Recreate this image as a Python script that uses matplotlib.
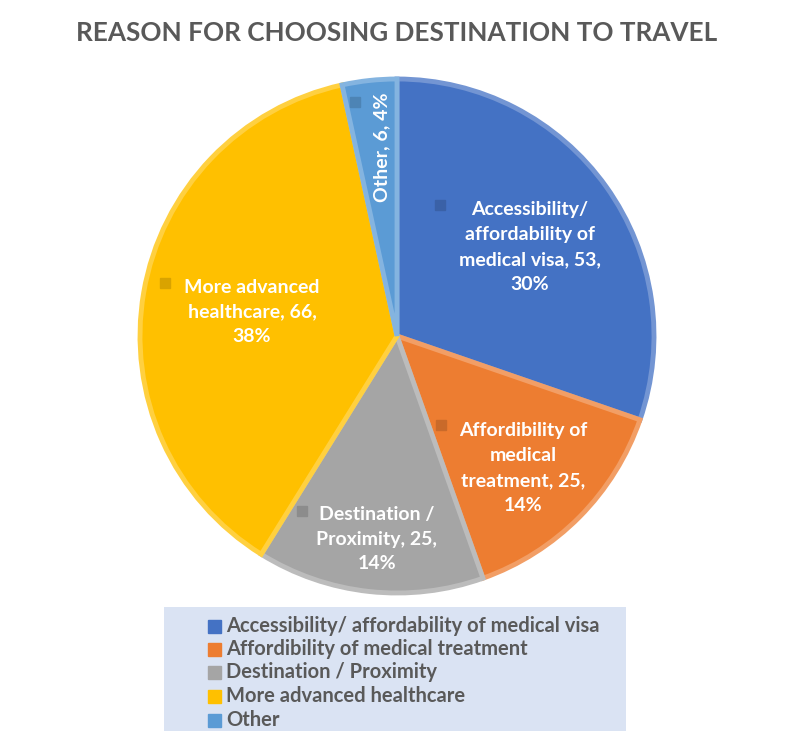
import matplotlib.pyplot as plt
from matplotlib.patches import Rectangle
from matplotlib.colors import to_rgb
import numpy as np

# data
labels = ['Accessibility/ affordability of medical visa',
          'Affordibility of medical treatment',
          'Destination / Proximity',
          'More advanced healthcare',
          'Other']
counts = [53, 25, 25, 66, 6]
pcts = ['30%', '14%', '14%', '38%', '4%']
slice_text = ['Accessibility/\naffordability of\nmedical visa, 53,\n30%',
              'Affordibility of\nmedical\ntreatment, 25,\n14%',
              'Destination /\nProximity, 25,\n14%',
              'More advanced\nhealthcare, 66,\n38%',
              'Other, 6, 4%']
colors = ['#4472C4', '#ED7D31', '#A5A5A5', '#FFC000', '#5B9BD5']

W, H = 790, 731
fig = plt.figure(figsize=(W / 100, H / 100), dpi=100)
ax = fig.add_axes([0, 0, 1, 1])

def py(y):
    # pixel row -> data y
    return H - y

def tint(c, f):
    r, g, b = to_rgb(c)
    return (r + (1 - r) * f, g + (1 - g) * f, b + (1 - b) * f)

def shade(c, f):
    r, g, b = to_rgb(c)
    return (r * f, g * f, b * f)

wedges, _ = ax.pie(counts, colors=colors, startangle=90, counterclock=False,
                   center=(397, py(336)), radius=257, frame=True,
                   wedgeprops=dict(linewidth=3.5))
for w, c in zip(wedges, colors):
    w.set_edgecolor(tint(c, 0.25))

ax.set_xlim(0, W)
ax.set_ylim(0, H)
ax.set_aspect('equal')
ax.axis('off')

# title
ax.text(397, py(33), 'REASON FOR CHOOSING DESTINATION TO TRAVEL', ha='center',
        va='center', fontsize=18.8, fontweight='bold', color='#595959',
        family='Lato')

# data labels inside slices
lab_pos = [(530, 247), (523, 468), (377, 539), (252, 312), (382, 147)]
key_pos = [(440, 205), (441, 425), (302, 511), (165, 283), (355, 102)]
rots = [0, 0, 0, 0, 90]
for t, (x, y), (kx, ky), c, r in zip(slice_text, lab_pos, key_pos, colors, rots):
    ax.text(x, py(y), t, ha='center', va='center', fontsize=14,
            fontweight='bold', color='white', family='Lato', rotation=r,
            linespacing=1.55)
    ax.add_patch(Rectangle((kx - 5, py(ky) - 5), 10, 10, color=shade(c, 0.85),
                           zorder=5))

# legend box
ax.add_patch(Rectangle((164, 0), 462, py(607), facecolor='#DAE3F3',
                       edgecolor='none', zorder=1))
leg_y = [626, 649, 672, 696, 720]
for t, c, y in zip(labels, colors, leg_y):
    ax.add_patch(Rectangle((208, py(y) - 6.5), 13, 13, color=c, zorder=2))
    ax.text(226, py(y), t, ha='left', va='center', fontsize=14.5,
            color='#595959', family='Lato', fontweight='bold', zorder=3)

fig.savefig('out.png', dpi=100)
